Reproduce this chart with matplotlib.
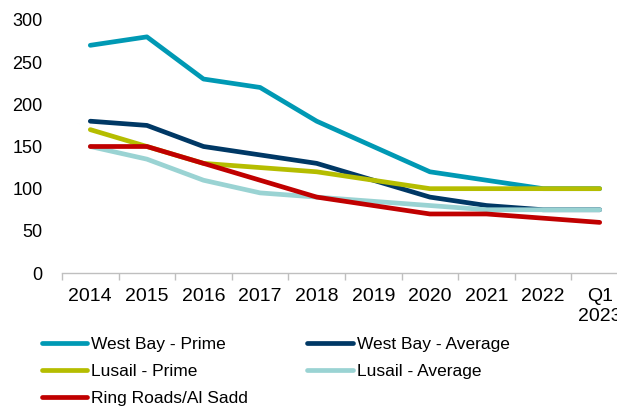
import matplotlib.pyplot as plt
import numpy as np

plt.rcParams['font.family'] = ['Liberation Sans', 'DejaVu Sans']

# categories and series (QAR / sqm / month)
categories = ['2014', '2015', '2016', '2017', '2018', '2019', '2020', '2021', '2022', 'Q1\n2023']
west_bay_prime = [270, 280, 230, 220, 180, 150, 120, 110, 100, 100]
west_bay_avg = [180, 175, 150, 140, 130, 110, 90, 80, 75, 75]
lusail_prime = [170, 150, 130, 125, 120, 110, 100, 100, 100, 100]
lusail_avg = [150, 135, 110, 95, 90, 85, 80, 75, 75, 75]
ring_roads = [150, 150, 130, 110, 90, 80, 70, 70, 65, 60]

series = [
    ('West Bay - Prime', west_bay_prime, '#0099B4'),
    ('West Bay - Average', west_bay_avg, '#003865'),
    ('Lusail - Prime', lusail_prime, '#B5BD00'),
    ('Lusail - Average', lusail_avg, '#9AD3D3'),
    ('Ring Roads/Al Sadd', ring_roads, '#C00000'),
]

fig = plt.figure(figsize=(6.17, 4.08), dpi=100)
ax = fig.add_axes([62 / 617, 135 / 408, 566 / 617, 253 / 408])

x = np.arange(len(categories))
lines = {}
for name, vals, col in series:
    ln, = ax.plot(x, vals, color=col, lw=3.4, solid_capstyle='round', label=name)
    lines[name] = ln

ax.set_xlim(-0.5, len(categories) - 0.5)
ax.set_ylim(0, 300)
ax.set_yticks(range(0, 301, 50))
ax.set_xticks(x)
ax.set_xticklabels(categories)
ax.set_xticks(np.arange(-0.5, len(categories), 1), minor=True)

for s in ['top', 'right', 'left']:
    ax.spines[s].set_visible(False)
ax.spines['bottom'].set_color('#BFBFBF')
ax.spines['bottom'].set_linewidth(1.0)

ax.tick_params(axis='x', which='major', length=0, pad=11, labelsize=14)
ax.tick_params(axis='x', which='minor', length=5, color='#BFBFBF', width=1.0)
ax.tick_params(axis='y', length=0, pad=14, labelsize=13)

order = ['West Bay - Prime', 'Lusail - Prime', 'Ring Roads/Al Sadd',
         'West Bay - Average', 'Lusail - Average']
fig.legend([lines[n] for n in order], order, ncol=2, frameon=False,
           loc='upper left', bbox_to_anchor=(42 / 617, 1 - 337 / 408),
           fontsize=12.5, handlelength=2.6, handletextpad=0.25,
           columnspacing=3.4, labelspacing=0.68, borderpad=0, borderaxespad=0)

fig.savefig('out.png', dpi=100)
